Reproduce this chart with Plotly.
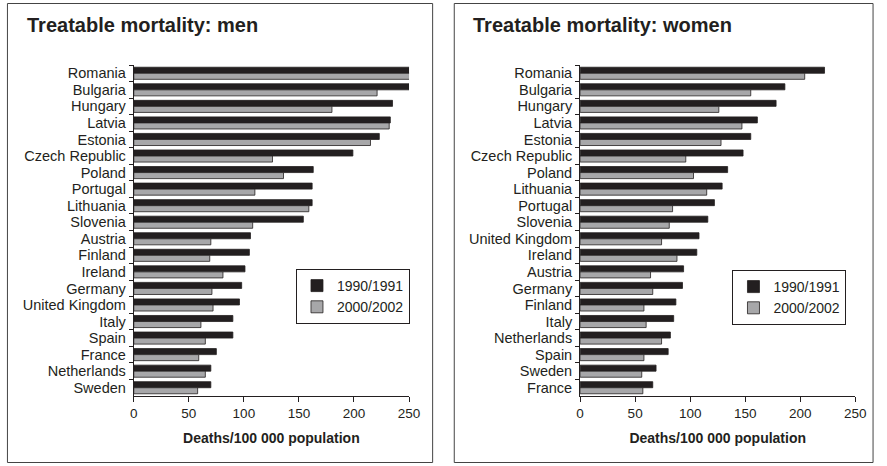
import plotly.graph_objects as go

W, H = 887, 466

# ---- data: men ----
men_countries = ["Romania", "Bulgaria", "Hungary", "Latvia", "Estonia", "Czech Republic",
                 "Poland", "Portugal", "Lithuania", "Slovenia", "Austria", "Finland",
                 "Ireland", "Germany", "United Kingdom", "Italy", "Spain", "France",
                 "Netherlands", "Sweden"]
men_1990 = [262, 250, 235, 233, 223, 199, 163, 162, 162, 154, 106, 105,
            101, 98, 96, 90, 90, 75, 70, 70]
men_2000 = [256, 221, 180, 232, 215, 126, 136, 110, 159, 108, 70, 69,
            81, 71, 72, 61, 65, 59, 65, 58]

# ---- data: women ----
women_countries = ["Romania", "Bulgaria", "Hungary", "Latvia", "Estonia", "Czech Republic",
                   "Poland", "Lithuania", "Portugal", "Slovenia", "United Kingdom", "Ireland",
                   "Austria", "Germany", "Finland", "Italy", "Netherlands", "Spain",
                   "Sweden", "France"]
women_1990 = [222, 186, 178, 161, 155, 148, 134, 129, 122, 116, 108, 106,
              94, 93, 87, 85, 82, 80, 69, 66]
women_2000 = [204, 155, 126, 147, 128, 96, 103, 115, 84, 81, 74, 88,
              64, 66, 58, 60, 74, 58, 56, 57]

series_names = ["1990/1991", "2000/2002"]
x_ticks = [0, 50, 100, 150, 200, 250]

DARK = "#231f20"
GREY = "#a7a7a9"
FONT = "Liberation Sans, Arial, Helvetica, sans-serif"

def px_x(p):
    return p / W

def px_y(p):
    return 1 - p / H

fig = go.Figure()

for name, vals, col in [(series_names[0], men_1990, DARK), (series_names[1], men_2000, GREY)]:
    fig.add_trace(go.Bar(
        y=men_countries, x=vals, orientation="h", name=name,
        marker=dict(color=col, line=dict(color=DARK, width=0.8)),
        xaxis="x", yaxis="y", legend="legend"))

for name, vals, col in [(series_names[0], women_1990, DARK), (series_names[1], women_2000, GREY)]:
    fig.add_trace(go.Bar(
        y=women_countries, x=vals, orientation="h", name=name,
        marker=dict(color=col, line=dict(color=DARK, width=0.8)),
        xaxis="x2", yaxis="y2", legend="legend2"))

ydom = [px_y(396), px_y(65)]

xaxis_common = dict(
    range=[0, 250], tickvals=x_ticks, ticktext=[str(v) for v in x_ticks],
    showline=True, linecolor=DARK, linewidth=1, ticks="outside", ticklen=5,
    tickcolor=DARK, showgrid=False, zeroline=False,
    tickfont=dict(family=FONT, size=13.5, color=DARK),
    title=dict(text="<b>Deaths/100 000 population</b>",
               font=dict(family=FONT, size=14, color=DARK), standoff=12),
)
yaxis_common = dict(
    showline=True, linecolor=DARK, linewidth=1, ticks="outside", ticklen=4,
    tickcolor=DARK, tickson="boundaries", showgrid=False, zeroline=False,
    autorange="reversed", tickmode="linear", dtick=1, ticklabelstandoff=4,
    tickfont=dict(family=FONT, size=14.5, color=DARK),
)

legend_common = dict(
    bordercolor=DARK, borderwidth=1, bgcolor="white",
    font=dict(family=FONT, size=14, color=DARK),
    xanchor="left", yanchor="top", traceorder="normal",
    tracegroupgap=0, itemwidth=30,
)

fig.update_layout(
    width=W, height=H,
    margin=dict(l=0, r=0, t=0, b=0),
    paper_bgcolor="white", plot_bgcolor="white",
    barmode="group", bargap=0.27, bargroupgap=0,
    font=dict(family=FONT, color=DARK),
    xaxis=dict(domain=[px_x(132), px_x(412)], anchor="y", **xaxis_common),
    yaxis=dict(domain=ydom, anchor="x", categoryorder="array",
               categoryarray=men_countries, **yaxis_common),
    xaxis2=dict(domain=[px_x(586), px_x(866)], anchor="y2", **xaxis_common),
    yaxis2=dict(domain=ydom, anchor="x2", categoryorder="array",
                categoryarray=women_countries, **yaxis_common),
    legend=dict(x=px_x(297), y=px_y(269), **legend_common),
    legend2=dict(x=px_x(741), y=px_y(270), **legend_common),
    showlegend=True,
    shapes=[
        dict(type="rect", xref="paper", yref="paper",
             x0=px_x(3.5), x1=px_x(436), y0=px_y(462.5), y1=px_y(3.5),
             line=dict(color="#444", width=1)),
        dict(type="rect", xref="paper", yref="paper",
             x0=px_x(458), x1=px_x(884), y0=px_y(462.5), y1=px_y(3.5),
             line=dict(color="#444", width=1)),
    ],
    annotations=[
        dict(text="<b>Treatable mortality: men</b>", xref="paper", yref="paper",
             x=px_x(21), y=px_y(25), xanchor="left", yanchor="middle",
             showarrow=False, font=dict(family=FONT, size=20, color=DARK)),
        dict(text="<b>Treatable mortality: women</b>", xref="paper", yref="paper",
             x=px_x(475), y=px_y(25), xanchor="left", yanchor="middle",
             showarrow=False, font=dict(family=FONT, size=20, color=DARK)),
    ],
)

fig.write_html("out.html",
               config={"displayModeBar": False},
               post_script="document.body.style.margin='0';document.body.style.overflow='hidden';")
